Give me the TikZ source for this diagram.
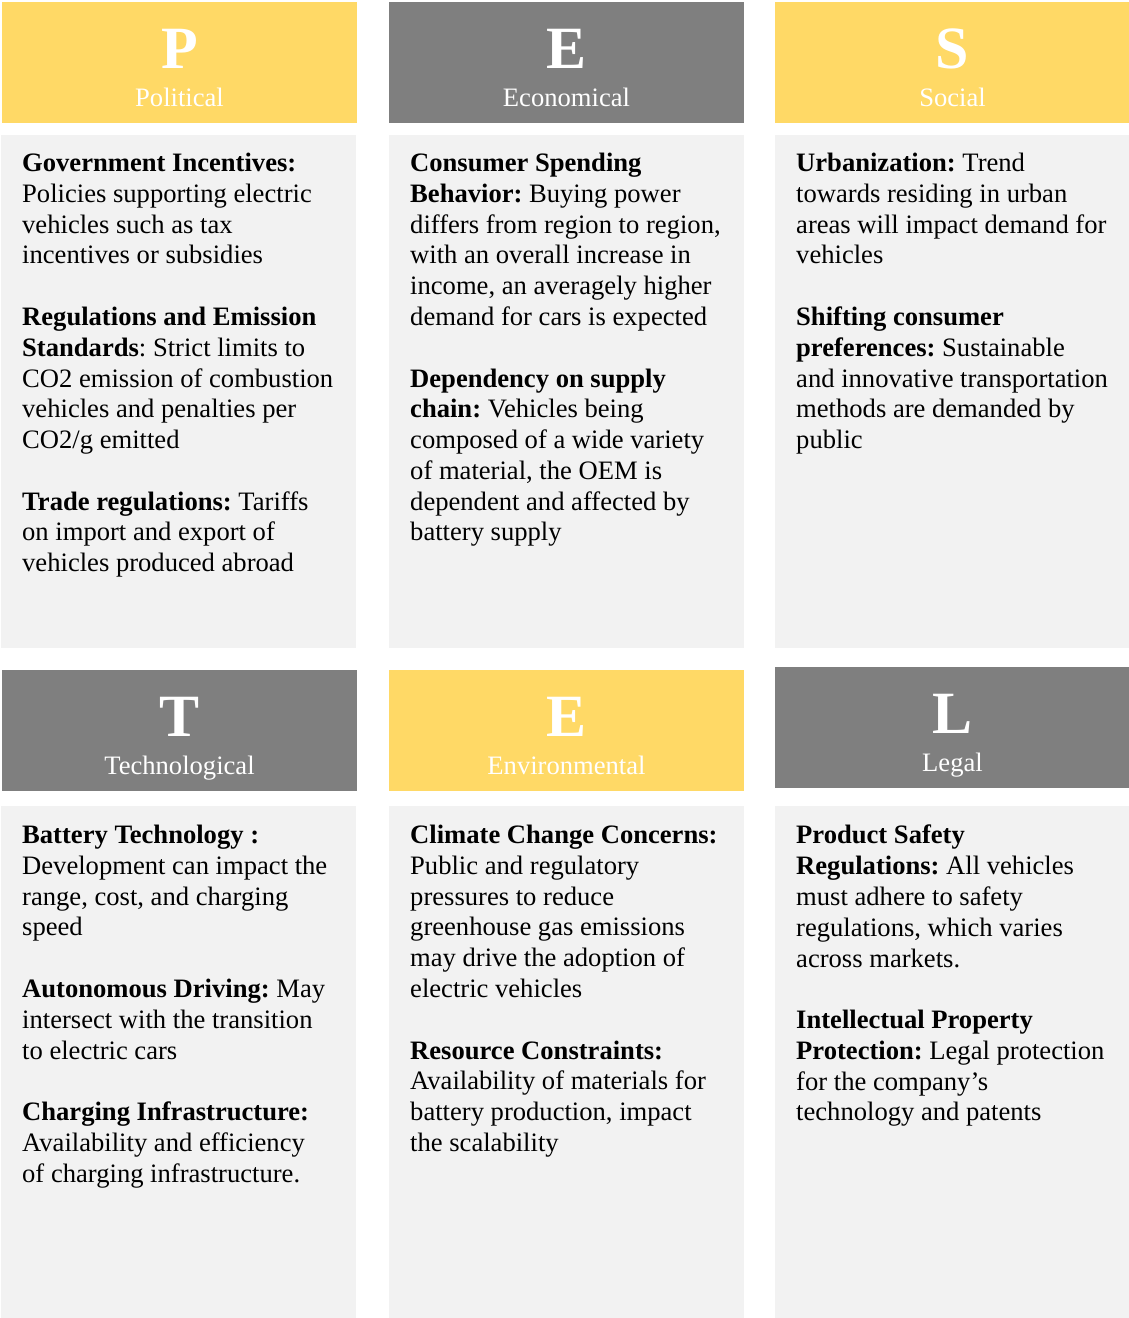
\documentclass[tikz,border=0pt]{standalone}
\usepackage{fontspec}
\setmainfont{Liberation Serif}
\definecolor{pyellow}{HTML}{FFD966}
\definecolor{pgray}{HTML}{7F7F7F}
\definecolor{plight}{HTML}{F2F2F2}

\begin{document}
\begin{tikzpicture}[x=1pt,y=-1pt,
        head/.style={shape=rectangle,anchor=north west,inner sep=0,minimum width=355pt,minimum height=121pt},
        body/.style={shape=rectangle,anchor=north west,inner sep=0,fill=plight,minimum width=355pt,minimum height=513pt},
        letter/.style={anchor=base,text=white,font=\fontsize{60}{60}\selectfont\bfseries},
        headtitle/.style={anchor=base,text=white,font=\fontsize{26.6}{30.77}\selectfont},
        note/.style={anchor=north west,inner sep=0,align=left,font=\fontsize{26.6}{30.77}\selectfont\frenchspacing}]
                \useasboundingbox (0,0) rectangle (1129,1318);
                % header boxes
                \node[head,fill=pyellow](Phead)at(2,2){};
                \node[head,fill=pgray](Ehead)at(389,2){};
                \node[head,fill=pyellow](Shead)at(775,2){};
                \node[head,fill=pgray](Thead)at(2,670){};
                \node[head,fill=pyellow](Envhead)at(389,670){};
                \node[head,fill=pgray](Lhead)at(775,667){};
                \node[letter](Pletter)at(179.5,68){P};
                \node[headtitle](Ptitle)at(179.5,106){Political};
                \node[letter](Eletter)at(566.5,68){E};
                \node[headtitle](Etitle)at(566.5,106){Economical};
                \node[letter](Sletter)at(952.5,68){S};
                \node[headtitle](Stitle)at(952.5,106){Social};
                \node[letter](Tletter)at(179.5,736){T};
                \node[headtitle](Ttitle)at(179.5,774){Technological};
                \node[letter](Envletter)at(566.5,736){E};
                \node[headtitle](Envtitle)at(566.5,774){Environmental};
                \node[letter](Lletter)at(952.5,733){L};
                \node[headtitle](Ltitle)at(952.5,771){Legal};
                % body boxes
                \node[body](Pbody)at(1,135){};
                \node[body](Ebody)at(389,135){};
                \node[body](Sbody)at(775,135){};
                \node[body,minimum height=512pt](Tbody)at(1,806){};
                \node[body,minimum height=512pt](Envbody)at(389,806){};
                \node[body,minimum height=512pt](Lbody)at(775,806){};
                % factors
                \node[note](Ptext)at(22,153){\textbf{Government Incentives:}\\
                    Policies supporting electric\\ vehicles such as tax\\ incentives or subsidies\\[\baselineskip]
                    \textbf{Regulations and Emission}\\ \textbf{Standards}: Strict limits to\\
                    CO2 emission of combustion\\ vehicles and penalties per\\ CO2/g emitted\\[\baselineskip]
                    \textbf{Trade regulations:} Tariffs\\ on import and export of\\ vehicles produced abroad};
                \node[note](Etext)at(410,153){\textbf{Consumer Spending}\\ \textbf{Behavior:} Buying power\\
                    differs from region to region,\\ with an overall increase in\\
                    income, an averagely higher\\ demand for cars is expected\\[\baselineskip]
                    \textbf{Dependency on supply}\\ \textbf{chain:} Vehicles being\\
                    composed of a wide variety\\ of material, the OEM is\\
                    dependent and affected by\\ battery supply};
                \node[note](Stext)at(796,153){\textbf{Urbanization:} Trend\\ towards residing in urban\\
                    areas will impact demand for\\ vehicles\\[\baselineskip]
                    \textbf{Shifting consumer}\\ \textbf{preferences:} Sustainable\\
                    and innovative transportation\\ methods are demanded by\\ public};
                \node[note](Ttext)at(22,825){\textbf{Battery Technology :}\\ Development can impact the\\
                    range, cost, and charging\\ speed\\[\baselineskip]
                    \textbf{Autonomous Driving:} May\\ intersect with the transition\\ to electric cars\\[\baselineskip]
                    \textbf{Charging Infrastructure:}\\ Availability and efficiency\\ of charging infrastructure.};
                \node[note](Envtext)at(410,825){\textbf{Climate Change Concerns:}\\ Public and regulatory\\
                    pressures to reduce\\ greenhouse gas emissions\\ may drive the adoption of\\ electric vehicles\\[\baselineskip]
                    \textbf{Resource Constraints:}\\ Availability of materials for\\
                    battery production, impact\\ the scalability};
                \node[note](Ltext)at(796,825){\textbf{Product Safety}\\ \textbf{Regulations:} All vehicles\\
                    must adhere to safety\\ regulations, which varies\\ across markets.\\[\baselineskip]
                    \textbf{Intellectual Property}\\ \textbf{Protection:} Legal protection\\
                    for the company’s\\ technology and patents};
            \end{tikzpicture}
\end{document}
